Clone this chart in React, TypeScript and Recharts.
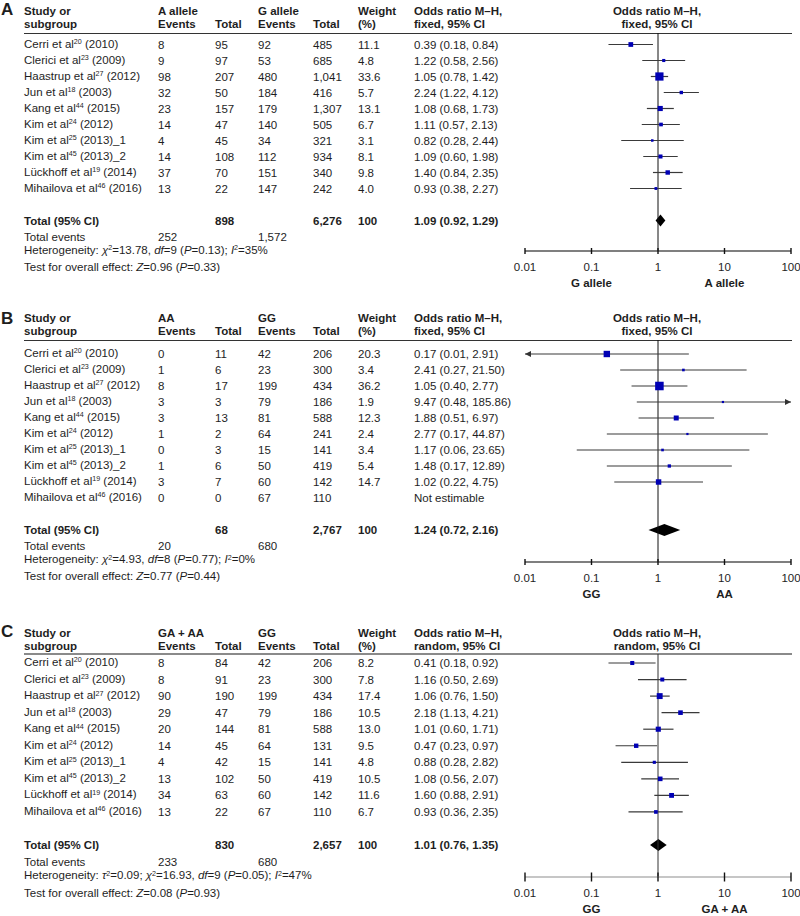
import React from 'react';
import { ComposedChart, XAxis, YAxis, Scatter, ReferenceLine, ReferenceArea } from 'recharts';

// ---------- shared labels ----------
const STUDY_AUTHORS = ['Cerri et al', 'Clerici et al', 'Haastrup et al', 'Jun et al', 'Kang et al', 'Kim et al', 'Kim et al', 'Kim et al', 'Lückhoff et al', 'Mihailova et al'];
const STUDY_REFS = ['20', '23', '27', '18', '44', '24', '25', '45', '19', '46'];
const STUDY_YEARS = [' (2010)', ' (2009)', ' (2012)', ' (2003)', ' (2015)', ' (2012)', ' (2013)_1', ' (2013)_2', ' (2014)', ' (2016)'];
const AXIS_TICKS = [0.01, 0.1, 1, 10, 100];

// ---------- panel A: A allele vs G allele (fixed) ----------
const A_EV1 = [8, 9, 98, 32, 23, 14, 4, 14, 37, 13];
const A_TOT1 = [95, 97, 207, 50, 157, 47, 45, 108, 70, 22];
const A_EV2 = [92, 53, 480, 184, 179, 140, 34, 112, 151, 147];
const A_TOT2 = [485, 685, 1041, 416, 1307, 505, 321, 934, 340, 242];
const A_WEIGHT = [11.1, 4.8, 33.6, 5.7, 13.1, 6.7, 3.1, 8.1, 9.8, 4.0];
const A_OR = [0.39, 1.22, 1.05, 2.24, 1.08, 1.11, 0.82, 1.09, 1.40, 0.93];
const A_LO = [0.18, 0.58, 0.78, 1.22, 0.68, 0.57, 0.28, 0.60, 0.84, 0.38];
const A_HI = [0.84, 2.56, 1.42, 4.12, 1.73, 2.13, 2.44, 1.98, 2.35, 2.27];
const A_TOTAL = [898, 6276, 100];
const A_TOTAL_OR = [1.09, 0.92, 1.29];
const A_TOTAL_EVENTS = [252, 1572];
const A_HET = ['', '13.78', '9', '0.13', '35'];
const A_TEST = ['0.96', '0.33'];

// ---------- panel B: AA vs GG (fixed) ----------
const B_EV1 = [0, 1, 8, 3, 3, 1, 0, 1, 3, 0];
const B_TOT1 = [11, 6, 17, 3, 13, 2, 3, 6, 7, 0];
const B_EV2 = [42, 23, 199, 79, 81, 64, 15, 50, 60, 67];
const B_TOT2 = [206, 300, 434, 186, 588, 241, 141, 419, 142, 110];
const B_WEIGHT = [20.3, 3.4, 36.2, 1.9, 12.3, 2.4, 3.4, 5.4, 14.7, null];
const B_OR = [0.17, 2.41, 1.05, 9.47, 1.88, 2.77, 1.17, 1.48, 1.02, null];
const B_LO = [0.01, 0.27, 0.40, 0.48, 0.51, 0.17, 0.06, 0.17, 0.22, null];
const B_HI = [2.91, 21.50, 2.77, 185.86, 6.97, 44.87, 23.65, 12.89, 4.75, null];
const B_TOTAL = [68, 2767, 100];
const B_TOTAL_OR = [1.24, 0.72, 2.16];
const B_TOTAL_EVENTS = [20, 680];
const B_HET = ['', '4.93', '8', '0.77', '0'];
const B_TEST = ['0.77', '0.44'];

// ---------- panel C: GA + AA vs GG (random) ----------
const C_EV1 = [8, 8, 90, 29, 20, 14, 4, 13, 34, 13];
const C_TOT1 = [84, 91, 190, 47, 144, 45, 42, 102, 63, 22];
const C_EV2 = [42, 23, 199, 79, 81, 64, 15, 50, 60, 67];
const C_TOT2 = [206, 300, 434, 186, 588, 131, 141, 419, 142, 110];
const C_WEIGHT = [8.2, 7.8, 17.4, 10.5, 13.0, 9.5, 4.8, 10.5, 11.6, 6.7];
const C_OR = [0.41, 1.16, 1.06, 2.18, 1.01, 0.47, 0.88, 1.08, 1.60, 0.93];
const C_LO = [0.18, 0.50, 0.76, 1.13, 0.60, 0.23, 0.28, 0.56, 0.88, 0.36];
const C_HI = [0.92, 2.69, 1.50, 4.21, 1.71, 0.97, 2.82, 2.07, 2.91, 2.35];
const C_TOTAL = [830, 2657, 100];
const C_TOTAL_OR = [1.01, 0.76, 1.35];
const C_TOTAL_EVENTS = [233, 680];
const C_HET = ['0.09', '16.93', '9', '0.05', '47'];
const C_TEST = ['0.08', '0.93'];

// ---------- layout ----------
const FONT = '"Liberation Sans", Arial, Helvetica, sans-serif';
const FS = 11.5;
const COL = { name: 24, ev1: 158, tot1: 215, ev2: 258, tot2: 313, w: 358, or: 414 };
const PLOT_L = 525;
const PLOT_R = 791;
const CENTER_X = 657;
const TEXT = '#1e1e1e';
const BLUE = '#0000b4';

const fmtN = (n: number) => n.toLocaleString('en-US');
const fmtOR = (o: number, l: number, h: number) => `${o.toFixed(2)} (${l.toFixed(2)}, ${h.toFixed(2)})`;

function Sup({ children }: any) {
  return <span style={{ fontSize: '0.62em', position: 'relative', top: '-0.5em' }}>{children}</span>;
}

function T({ x, y, children, bold, center, size }: any) {
  return (
    <div
      style={{
        position: 'absolute',
        left: x,
        top: y,
        transform: center ? 'translate(-50%,-50%)' : 'translateY(-50%)',
        fontSize: size || FS,
        lineHeight: '14px',
        fontWeight: bold ? 700 : 400,
        whiteSpace: 'nowrap',
        color: TEXT,
      }}
    >
      {children}
    </div>
  );
}

function Square(props: any) {
  const { cx, cy, payload } = props;
  if (cx == null || cy == null) return null;
  const s = Math.max(2.2, 1.42 * Math.sqrt(payload.w));
  return <rect x={cx - s / 2} y={cy - s / 2} width={s} height={s} fill={BLUE} />;
}

function Arrow(props: any) {
  const { cx, cy, payload } = props;
  if (cx == null || cy == null) return null;
  const d = payload.dir === 'left' ? 1 : -1;
  const pts = `${cx},${cy} ${cx + d * 6},${cy - 3} ${cx + d * 6},${cy + 3}`;
  return <polygon points={pts} fill="#333" />;
}

function Diamond(props: any) {
  const { x, y, width, height } = props;
  if (x == null) return null;
  const pts = `${x},${y + height / 2} ${x + width / 2},${y} ${x + width},${y + height / 2} ${x + width / 2},${y + height}`;
  return <polygon points={pts} fill="#000" />;
}

function Panel(p: any) {
  const { letter, groups, method, ev1, tot1, ev2, tot2, weight, or, lo, hi, total, totalOr, totalEvents, het, test, axisLabels, L, light } = p;
  const { label, h1, h2, rule, row0, sp, axisY } = L;
  const rowY = (r: number) => row0 + r * sp;
  const yTop = (rule - row0) / sp;
  const yBot = (axisY - rule) / sp + yTop;
  const plotH = axisY - rule;

  const pts = or
    .map((o: number | null, i: number) => (o == null ? null : { or: o, row: i, w: weight[i], lo: lo[i], hi: hi[i] }))
    .filter(Boolean);
  const arrows: any[] = [];
  pts.forEach((d: any) => {
    if (d.lo <= 0.01) arrows.push({ or: 0.01, row: d.row, dir: 'left' });
    if (d.hi >= 100) arrows.push({ or: 100, row: d.row, dir: 'right' });
  });

  const axisStroke = light ? '#c6c6c6' : '#555';
  const axisW = light ? 2 : 1.3;
  const tickHalf = light ? 4.5 : 3;

  const renderTick = (tp: any) => {
    const { x, y, payload } = tp;
    const v = payload.value;
    return (
      <g>
        <line x1={x} x2={x} y1={y - tickHalf} y2={y + tickHalf} stroke="#111" strokeWidth={1.4} />
        <text x={x} y={y + 20} textAnchor="middle" fontSize={FS} fontFamily={FONT} fill={TEXT}>
          {String(v)}
        </text>
        {v === 0.1 && (
          <text x={x} y={y + 36} textAnchor="middle" fontSize={FS} fontWeight={700} fontFamily={FONT} fill={TEXT}>
            {axisLabels[0]}
          </text>
        )}
        {v === 10 && (
          <text x={x} y={y + 36} textAnchor="middle" fontSize={FS} fontWeight={700} fontFamily={FONT} fill={TEXT}>
            {axisLabels[1]}
          </text>
        )}
      </g>
    );
  };

  return (
    <>
      <T x={1} y={label} bold size={17}>{letter}</T>
      <T x={COL.name} y={h1} bold>Study or</T>
      <T x={COL.name} y={h2} bold>subgroup</T>
      <T x={COL.ev1} y={h1} bold>{groups[0]}</T>
      <T x={COL.ev1} y={h2} bold>Events</T>
      <T x={COL.tot1} y={h2} bold>Total</T>
      <T x={COL.ev2} y={h1} bold>{groups[1]}</T>
      <T x={COL.ev2} y={h2} bold>Events</T>
      <T x={COL.tot2} y={h2} bold>Total</T>
      <T x={COL.w} y={h1} bold>Weight</T>
      <T x={COL.w} y={h2} bold>(%)</T>
      <T x={COL.or} y={h1} bold>Odds ratio M–H,</T>
      <T x={COL.or} y={h2} bold>{method}, 95% CI</T>
      <T x={CENTER_X} y={h1} bold center>Odds ratio M–H,</T>
      <T x={CENTER_X} y={h2} bold center>{method}, 95% CI</T>
      <div style={{ position: 'absolute', left: 24, top: rule - (light ? 0.75 : 0.5), width: 792 - 24, height: light ? 1.5 : 1, background: light ? '#8a8a8a' : '#333' }} />

      {STUDY_AUTHORS.map((a, i) => (
        <React.Fragment key={i}>
          <T x={COL.name} y={rowY(i)}>
            {a}
            <Sup>{STUDY_REFS[i]}</Sup>
            {STUDY_YEARS[i]}
          </T>
          <T x={COL.ev1} y={rowY(i)}>{fmtN(ev1[i])}</T>
          <T x={COL.tot1} y={rowY(i)}>{fmtN(tot1[i])}</T>
          <T x={COL.ev2} y={rowY(i)}>{fmtN(ev2[i])}</T>
          <T x={COL.tot2} y={rowY(i)}>{fmtN(tot2[i])}</T>
          <T x={COL.w} y={rowY(i)}>{weight[i] == null ? '' : weight[i].toFixed(1)}</T>
          <T x={COL.or} y={rowY(i)}>{or[i] == null ? 'Not estimable' : fmtOR(or[i], lo[i], hi[i])}</T>
        </React.Fragment>
      ))}

      <T x={COL.name} y={rowY(11)} bold>Total (95% CI)</T>
      <T x={COL.tot1} y={rowY(11)} bold>{fmtN(total[0])}</T>
      <T x={COL.tot2} y={rowY(11)} bold>{fmtN(total[1])}</T>
      <T x={COL.w} y={rowY(11)} bold>{fmtN(total[2])}</T>
      <T x={COL.or} y={rowY(11)} bold>{fmtOR(totalOr[0], totalOr[1], totalOr[2])}</T>
      <T x={COL.name} y={rowY(12)}>Total events</T>
      <T x={COL.ev1} y={rowY(12)}>{fmtN(totalEvents[0])}</T>
      <T x={COL.ev2} y={rowY(12)}>{fmtN(totalEvents[1])}</T>
      <T x={COL.name} y={rowY(12.9)}>
        Heterogeneity:{' '}
        {het[0] !== '' && (
          <>
            <i>τ</i><Sup>2</Sup>={het[0]};{' '}
          </>
        )}
        <i>χ</i><Sup>2</Sup>={het[1]}, <i>df</i>={het[2]} (<i>P</i>={het[3]}); <i>I</i><Sup>2</Sup>={het[4]}%
      </T>
      <T x={COL.name} y={rowY(13.9)}>
        Test for overall effect: <i>Z</i>={test[0]} (<i>P</i>={test[1]})
      </T>

      <div style={{ position: 'absolute', left: 0, top: rule }}>
        <ComposedChart width={800} height={plotH + 40} margin={{ top: 0, right: 800 - PLOT_R, bottom: 0, left: PLOT_L }}>
          <XAxis
            type="number"
            dataKey="or"
            scale="log"
            domain={[0.01, 100]}
            ticks={AXIS_TICKS}
            interval={0}
            allowDataOverflow
            tickLine={false}
            tickSize={0}
            tickMargin={0}
            height={40}
            axisLine={{ stroke: axisStroke, strokeWidth: axisW }}
            tick={renderTick}
          />
          <YAxis type="number" dataKey="row" domain={[yTop, yBot]} reversed hide allowDataOverflow />
          <ReferenceLine x={1} stroke={light ? '#333' : '#111'} strokeWidth={1} ifOverflow="visible" />
          {pts.map((d: any) => (
            <ReferenceLine
              key={'ci' + d.row}
              segment={[
                { x: Math.max(d.lo, 0.01), y: d.row },
                { x: Math.min(d.hi, 100), y: d.row },
              ]}
              stroke="#3a3a3a"
              strokeWidth={1.2}
              ifOverflow="visible"
            />
          ))}
          <ReferenceArea
            x1={totalOr[1]}
            x2={totalOr[2]}
            y1={11 - 6 / sp}
            y2={11 + 6 / sp}
            ifOverflow="visible"
            shape={Diamond}
          />
          <Scatter data={pts} shape={Square} isAnimationActive={false} />
          <Scatter data={arrows} shape={Arrow} isAnimationActive={false} />
        </ComposedChart>
      </div>
    </>
  );
}

const LAYOUT_A = { label: 9.5, h1: 10.5, h2: 24, rule: 33, row0: 44.5, sp: 16, axisY: 251 };
const LAYOUT_B = { label: 319, h1: 317.5, h2: 331, rule: 340, row0: 354, sp: 16, axisY: 562 };
const LAYOUT_C = { label: 632, h1: 632.5, h2: 645.5, rule: 654, row0: 663, sp: 16.55, axisY: 877 };

export default function App() {
  return (
    <div style={{ position: 'absolute', left: 0, top: 0, width: 800, height: 916, background: '#fff', fontFamily: FONT, color: TEXT, overflow: 'hidden' }}>
      <Panel
        letter="A" groups={['A allele', 'G allele']} method="fixed"
        ev1={A_EV1} tot1={A_TOT1} ev2={A_EV2} tot2={A_TOT2} weight={A_WEIGHT}
        or={A_OR} lo={A_LO} hi={A_HI} total={A_TOTAL} totalOr={A_TOTAL_OR} totalEvents={A_TOTAL_EVENTS}
        het={A_HET} test={A_TEST} axisLabels={['G allele', 'A allele']} L={LAYOUT_A}
      />
      <Panel
        letter="B" groups={['AA', 'GG']} method="fixed"
        ev1={B_EV1} tot1={B_TOT1} ev2={B_EV2} tot2={B_TOT2} weight={B_WEIGHT}
        or={B_OR} lo={B_LO} hi={B_HI} total={B_TOTAL} totalOr={B_TOTAL_OR} totalEvents={B_TOTAL_EVENTS}
        het={B_HET} test={B_TEST} axisLabels={['GG', 'AA']} L={LAYOUT_B}
      />
      <Panel
        letter="C" groups={['GA + AA', 'GG']} method="random"
        ev1={C_EV1} tot1={C_TOT1} ev2={C_EV2} tot2={C_TOT2} weight={C_WEIGHT}
        or={C_OR} lo={C_LO} hi={C_HI} total={C_TOTAL} totalOr={C_TOTAL_OR} totalEvents={C_TOTAL_EVENTS}
        het={C_HET} test={C_TEST} axisLabels={['GG', 'GA + AA']} L={LAYOUT_C} light
      />
    </div>
  );
}
